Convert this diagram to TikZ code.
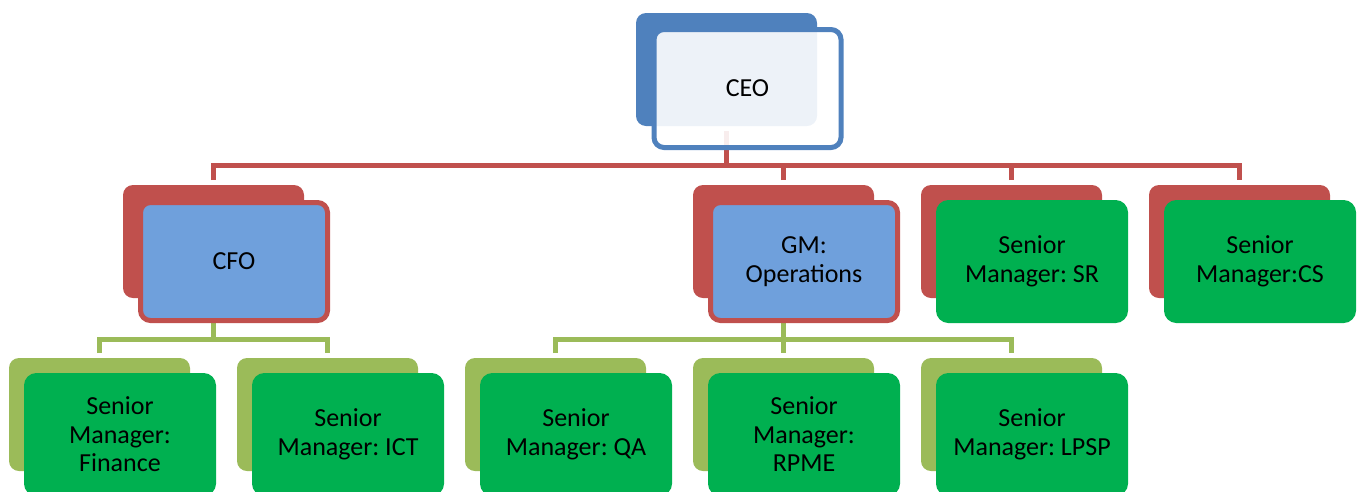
\documentclass[tikz,border=0pt]{standalone}
\usepackage{fontspec}
\setmainfont{Carlito}
\usepackage{xcolor}
\frenchspacing
\definecolor{ceoblue}{HTML}{4F81BD}
\definecolor{mgrred}{HTML}{C0504D}
\definecolor{midblue}{HTML}{6FA0DC}
\definecolor{leafolive}{HTML}{9BBB59}
\definecolor{leafgreen}{HTML}{00B050}

\begin{document}
\begin{tikzpicture}[x=1pt,y=-1pt,
  back/.style={rounded corners=10pt,minimum width=181pt,minimum height=113pt,inner sep=0pt,outer sep=5pt},
  front/.style={rounded corners=10pt,line width=5pt,minimum width=187pt,minimum height=118pt,
    inner sep=0pt,align=center,font=\fontsize{26}{28.5}\selectfont},
  midback/.style={back,fill=mgrred},
  leafback/.style={back,fill=leafolive},
  midfront/.style={front,draw=mgrred,fill=midblue},
  leaffront/.style={front,draw=leafgreen,fill=leafgreen},
  redline/.style={mgrred,line width=5pt},
  greenline/.style={leafolive,line width=5pt}]
  \useasboundingbox (0,0) rectangle (1364,491);
  \clip (0,0) rectangle (1364,491);

  % shadow boxes
  \node[back,fill=ceoblue] (ceoback) at (726.5,69.5) {};
  \node[midback] (cfoback) at (213.5,241.5) {};
  \node[midback] (gmback) at (783.5,241.5) {};
  \node[midback] (srback) at (1011.5,241.5) {};
  \node[midback] (csback) at (1239.5,241.5) {};
  \node[leafback] (finback) at (99.5,414.5) {};
  \node[leafback] (ictback) at (327.5,414.5) {};
  \node[leafback] (qaback) at (555.5,414.5) {};
  \node[leafback] (rpmeback) at (783.5,414.5) {};
  \node[leafback] (lpspback) at (1011.5,414.5) {};

  % connectors
  \draw[redline] (ceoback.south) -- ++(0,34) coordinate (ceobar);
  \draw[redline] (cfoback.north) |- (ceobar) -| (csback.north);
  \draw[redline] (gmback.north) -- (gmback.north |- ceobar);
  \draw[redline] (srback.north) -- (srback.north |- ceobar);
  \draw[greenline] (cfoback.south) -- ++(0,36) coordinate (cfobar);
  \draw[greenline] (finback.north) |- (cfobar) -| (ictback.north);
  \draw[greenline] (gmback.south) -- (rpmeback.north);
  \draw[greenline] (qaback.north) |- (gmback.south |- cfobar) -| (lpspback.north);

  % front boxes
  \node[front,draw=ceoblue,fill=white,fill opacity=0.9,text opacity=1] (ceo) at ([shift={(21,19)}]ceoback) {CEO};
  \node[midfront] (cfo) at ([shift={(20.5,20)}]cfoback) {CFO};
  \node[midfront] (gm) at ([shift={(20.5,20)}]gmback) {GM:\\Operations};
  \node[leaffront] (sr) at ([shift={(20.5,20)}]srback) {Senior\\Manager: SR};
  \node[leaffront] (cs) at ([shift={(20.5,20)}]csback) {Senior\\Manager:CS};
  \node[leaffront] (fin) at ([shift={(20.5,20)}]finback) {Senior\\Manager:\\Finance};
  \node[leaffront] (ict) at ([shift={(20.5,20)}]ictback) {Senior\\Manager: ICT};
  \node[leaffront] (qa) at ([shift={(20.5,20)}]qaback) {Senior\\Manager: QA};
  \node[leaffront] (rpme) at ([shift={(20.5,20)}]rpmeback) {Senior\\Manager:\\RPME};
  \node[leaffront] (lpsp) at ([shift={(20.5,20)}]lpspback) {Senior\\Manager: LPSP};
\end{tikzpicture}
\end{document}
